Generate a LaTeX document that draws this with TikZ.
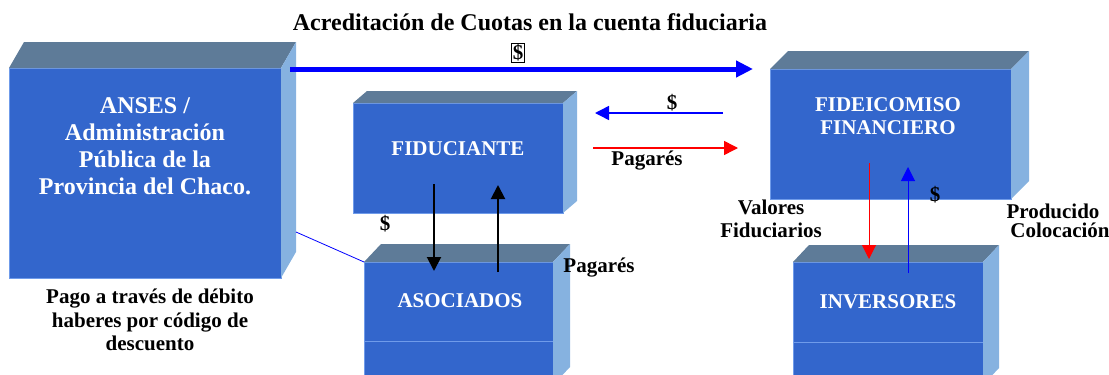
\documentclass[tikz,border=0pt]{standalone}
\usepackage{fontspec}
\setmainfont{Liberation Serif}
\usetikzlibrary{arrows.meta,calc}
\definecolor{frontblue}{HTML}{3366CC}
\definecolor{frontline}{HTML}{6F9BEA}
\definecolor{topgrey}{HTML}{5E7B98}
\definecolor{sideblue}{HTML}{86B2E0}
\tikzset{
  front/.style={draw=frontline, line width=0.8pt, fill=frontblue, inner sep=0pt, outer sep=0pt},
  boxtext/.style={text=white, font=\bfseries\fontsize{21}{23}\selectfont, align=center, inner sep=0pt},
  note/.style={font=\bfseries\fontsize{21}{23.5}\selectfont, align=center, inner sep=0pt},
  flow/.style={-{Triangle[length=14pt,width=14pt]}, line width=1.5pt},
}
\newcommand{\boxsides}[3]{%
  \fill[topgrey] (#1.north west) -- ++(#2,-#3) -- ($(#1.north east)+(#2,-#3)$) -- (#1.north east) -- cycle;
  \fill[sideblue] (#1.north east) -- ++(#2,-#3) -- ($(#1.south east)+(#2,-#3)$) -- (#1.south east) -- cycle;}
\begin{document}
\begin{tikzpicture}[x=1pt,y=-1pt]
\path[use as bounding box, clip] (0,0) rectangle (1109,375);
\node[front, minimum width=272, minimum height=210] (anses) at (145,173){};
\boxsides{anses}{15}{26}
\node[front, minimum width=210, minimum height=110] (fiduc) at (458,158){};
\boxsides{fiduc}{14}{12}
\node[front, minimum width=189, minimum height=123] (asoc) at (458.5,323.5){};
\boxsides{asoc}{17}{18}
\node[front, minimum width=241, minimum height=130] (fide) at (890.5,134){};
\boxsides{fide}{18}{18}
\node[front, minimum width=190, minimum height=123] (inv) at (888,323.5){};
\boxsides{inv}{16}{17}
\draw[frontline] (asoc.west |- 0,341) -- (asoc.east |- 0,341);
\draw[frontline] (inv.west |- 0,342) -- (inv.east |- 0,342);
\node[boxtext, font=\bfseries\fontsize{24}{27}\selectfont] (ansesText) at (145,146){ANSES /\\Administración\\Pública de la\\Provincia del Chaco.};
\node[boxtext] (fiducText) at (458,149){FIDUCIANTE};
\node[boxtext] (asocText) at (460,301){ASOCIADOS};
\node[boxtext] (fideText) at (888,116.5){FIDEICOMISO\\FINANCIERO};
\node[boxtext] (invText) at (888,302){INVERSORES};
\draw[blue, -{Triangle[length=17pt,width=16pt]}, line width=5pt] ($(anses.north east)+(9,1)$) -- ($(fide.north west)+(-17,0)$);
\draw[flow, blue] ($(fide.north west)+(-47,44)$) -- ($(fiduc.north east)+(32,10)$);
\draw[flow, red] ($(fiduc.north east)+(30,45)$) -- ($(fide.north west)+(-32,79)$);
\draw[flow, black, line width=2pt] ($(fiduc.south)+(-24,-29)$) -- ($(asoc.north)+(-24.5,9)$);
\draw[flow, black, line width=2pt] ($(asoc.north)+(39.5,10)$) -- ($(fiduc.south)+(40,-28)$);
\draw[flow, red, line width=1pt] ($(fide.south)+(-21.5,-36)$) -- ($(inv.north)+(-19,-3)$);
\draw[flow, blue, line width=1pt] ($(inv.north)+(20,11)$) -- ($(fide.south)+(17.5,-32)$);
\draw[blue, line width=0.8pt] ($(anses.south east)+(15,-46)$) -- (asoc.north west);
\node[note, font=\bfseries\fontsize{24}{27}\selectfont] (title) at (530,22){Acreditación de Cuotas en la cuenta fiduciaria};
\node[note, draw, line width=0.8pt, inner sep=1pt] (dollarTop) at (518,53){\$};
\node[note] (dollarMid) at (672,103){\$};
\node[note] (pagaresMid) at (647,161){Pagarés};
\node[note] (dollarFiduc) at (385,224){\$};
\node[note] (pagaresAsoc) at (599,268){Pagarés};
\node[note] (pago) at (150,320){Pago a través de débito\\haberes por código de\\descuento};
\node[note] (valores) at (771,219){Valores\\Fiduciarios};
\node[note, font=\bfseries\fontsize{21}{19.5}\selectfont] (producido) at (1053,221){Producido\\\hspace*{14pt}Colocación};
\node[note] (dollarInv) at (935,195){\$};
\end{tikzpicture}
\end{document}
